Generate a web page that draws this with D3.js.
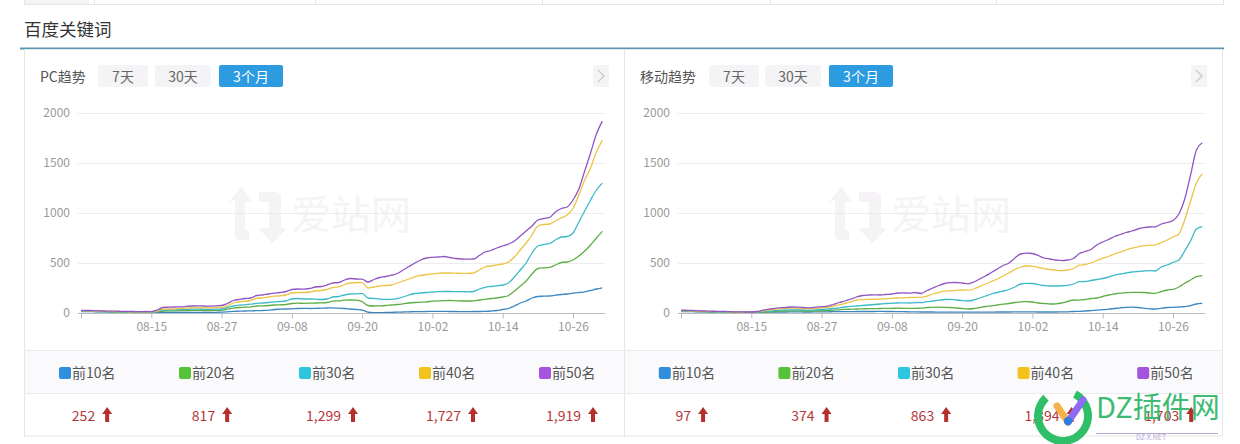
<!DOCTYPE html>
<html><head><meta charset="utf-8">
<script src="https://cdn.jsdelivr.net/npm/d3@7"></script>
<style>
html,body{margin:0;padding:0;background:#fff;}
svg{display:block;font-family:"Noto Sans CJK SC","Noto Sans",sans-serif;}
</style></head><body>
<svg id="c" width="1240" height="444"></svg>
<script>
// ---------- data ----------
const dates = d3.timeDay.range(new Date(2018,7,3), new Date(2018,10,1)); // 90 days, 08-03 .. 10-31
const xTickIdx = [0,12,24,36,48,60,72,84];
const xTickLabels = ["", "08-15","08-27","09-08","09-20","10-02","10-14","10-26"];
const yTicks = [0,500,1000,1500,2000];
const seriesNames = ["前10名","前20名","前30名","前40名","前50名"];
const seriesColors = ["#2f8fdc","#55c23a","#2ec6dc","#f3c21b","#a355dd"];
const lineColors = ["#3d86bf","#5cae45","#3cb9c9","#ecc445","#8f55c2"];
const buttons = ["7天","30天","3个月"];

const pcTop10 = [15,15,13,12,11,10,9,8,8,7,7,7,7,6,5,5,6,6,6,7,7,7,6,7,8,12,16,18,20,22,23,25,28,35,38,40,42,45,46,45,47,48,50,52,48,45,40,35,30,8,3,4,5,7,8,10,12,13,14,15,16,17,16,15,15,14,14,15,15,17,20,25,35,45,70,100,120,150,165,168,170,178,185,190,198,205,212,225,240,252];
const pcTop20 = [18,18,16,15,14,12,11,10,10,9,9,9,9,12,20,22,22,23,25,26,26,25,25,26,27,38,48,55,58,62,70,72,75,80,82,85,95,98,97,98,100,102,105,118,122,128,130,128,113,75,70,72,75,80,85,92,100,105,108,112,118,122,124,125,122,120,120,122,130,137,145,150,160,175,220,270,320,390,445,452,457,480,505,510,530,570,620,680,750,817];
const pcTop30 = [20,20,18,17,15,14,13,12,11,11,10,10,10,15,28,30,32,33,35,38,38,37,36,38,40,55,70,78,82,88,97,100,105,112,115,120,140,145,140,140,138,135,140,160,165,180,190,192,197,150,145,140,137,137,145,160,180,195,200,205,210,213,215,215,213,213,212,215,240,257,265,272,280,300,360,430,500,600,670,685,695,730,760,765,800,910,1020,1130,1230,1299];
const pcTop40 = [22,23,21,19,18,16,15,14,13,12,12,12,12,20,38,40,42,45,48,52,54,53,52,55,57,72,100,110,118,125,147,152,160,168,172,180,200,205,205,210,220,225,235,255,262,285,300,305,303,250,260,270,275,280,300,320,340,362,375,385,392,397,400,400,398,397,396,400,430,460,470,480,490,510,560,630,700,780,870,885,890,920,950,980,1045,1180,1330,1450,1610,1727];
const pcTop50 = [25,26,24,22,20,19,18,17,16,15,14,15,14,30,55,58,60,62,66,70,72,70,68,72,75,95,125,135,145,150,175,180,190,198,205,215,235,240,238,245,260,265,280,300,305,330,345,340,338,310,335,355,365,378,395,430,465,500,530,550,557,560,565,555,545,540,538,540,575,610,625,650,670,690,720,770,820,870,930,945,955,1010,1045,1060,1130,1240,1420,1600,1790,1919];

const mTop10 = [15,14,13,12,11,10,9,9,8,8,7,7,7,7,8,9,9,10,10,11,11,10,10,11,12,12,13,13,14,14,15,15,15,15,16,15,15,14,13,12,11,10,10,10,9,9,9,8,8,8,8,9,9,9,10,10,10,11,12,12,11,10,10,10,10,11,12,15,17,20,24,28,33,38,45,52,57,58,55,48,42,40,48,55,57,60,63,75,90,97];
const mTop20 = [18,17,16,15,13,12,11,10,9,8,8,8,7,8,10,12,15,18,20,22,21,20,20,21,23,25,28,32,36,38,40,42,43,44,45,46,47,48,47,46,47,48,55,57,58,57,55,50,45,40,45,55,65,72,80,88,95,105,112,113,110,100,95,90,92,100,115,130,128,135,145,150,165,180,190,198,203,207,207,205,200,197,215,230,237,260,297,330,363,374];
const mTop30 = [20,19,18,16,15,14,13,12,11,10,9,9,8,10,16,20,24,27,30,32,31,30,29,32,35,38,45,52,60,66,70,75,80,85,90,95,97,100,102,100,103,103,113,120,128,135,137,130,124,120,130,150,170,190,205,220,235,260,290,297,295,283,275,270,270,272,277,290,313,315,325,335,345,360,378,390,400,410,415,420,423,420,460,480,505,530,620,720,840,863];
const mTop40 = [24,23,21,19,17,16,15,14,12,11,10,9,9,12,22,30,37,42,46,48,47,45,43,47,52,56,68,82,95,112,130,134,136,137,138,142,147,150,152,155,157,157,170,190,205,218,223,226,230,228,240,265,290,315,340,370,400,435,460,470,468,455,445,435,428,423,430,445,478,485,500,525,548,565,590,610,630,648,662,673,678,682,705,730,760,790,930,1120,1300,1394];
const mTop50 = [28,27,25,22,20,18,17,16,14,12,11,10,10,15,28,38,47,52,57,60,58,55,52,58,63,68,85,105,120,140,160,175,180,182,180,185,190,200,202,198,205,195,225,250,275,295,303,305,300,292,310,340,370,405,440,475,500,550,590,598,595,575,550,540,530,523,530,545,595,615,635,680,710,735,765,785,805,820,840,853,860,862,890,905,925,990,1140,1380,1630,1703];

const pcFinal = ["252","817","1,299","1,727","1,919"];
const mFinal = ["97","374","863","1,394","1,703"];

// ---------- layout ----------
const svg = d3.select("#c");
const FONT = '"Noto Sans CJK SC","Noto Sans",sans-serif';

// top table strip
svg.append("rect").attr("x",24).attr("y",0).attr("width",65).attr("height",4.5).attr("fill","#f4f4f4");
svg.append("line").attr("x1",24).attr("x2",1224).attr("y1",4.5).attr("y2",4.5).attr("stroke","#e6e6e6");
[24,94,315,542,770,996,1223].forEach(x=>{
  svg.append("line").attr("x1",x+0.5).attr("x2",x+0.5).attr("y1",0).attr("y2",4.5).attr("stroke","#e6e6e6");
});

// title
svg.append("text").attr("x",24).attr("y",36).attr("font-size",17.5).attr("fill","#333").text("百度关键词");
svg.append("rect").attr("x",20).attr("y",47.5).attr("width",1204).attr("height",2).attr("fill","#5b96b4");

function panel(opt){
  const g = svg.append("g");
  const {x0,x1,title,tabX,btnX,series,finals,xStart} = opt;
  // border
  g.append("rect").attr("x",x0+0.5).attr("y",49.5).attr("width",x1-x0).attr("height",386.5)
    .attr("fill","none").attr("stroke","#e6e6e6");
  // tab title
  g.append("text").attr("x",tabX).attr("y",82).attr("font-size",14).attr("fill","#555").text(title);
  // buttons
  const widths=[50,56,64];
  buttons.forEach((b,i)=>{
    const bx=btnX[i];
    g.append("rect").attr("x",bx).attr("y",65).attr("width",widths[i]).attr("height",22).attr("rx",2)
      .attr("fill", i===2?"#2c9be0":"#f4f4f6");
    g.append("text").attr("x",bx+widths[i]/2).attr("y",81.5).attr("text-anchor","middle")
      .attr("font-size",14).attr("fill", i===2?"#fff":"#666").text(b);
  });
  // chevron button
  const cx = x1-31;
  g.append("rect").attr("x",cx).attr("y",65).attr("width",16).attr("height",22).attr("fill","#f4f4f6");
  g.append("path").attr("d",`M${cx+5},70 L${cx+11},76 L${cx+5},82`).attr("fill","none").attr("stroke","#c8c8c8").attr("stroke-width",1.3);

  // scales
  const x = d3.scaleLinear().domain([0,dates.length-1]).range([xStart, xStart+89*5.857]);
  const y = d3.scaleLinear().domain([0,2000]).range([313,113]);

  // watermark
  const wm = g.append("g");
  const wx = xStart+144, wy=186;
  wm.append("path").attr("d",`M${wx+10},${wy+14} L${wx+10},${wy+48} Q${wx+10},${wy+54} ${wx+16},${wy+54} L${wx+24},${wy+54} L${wx+24},${wy+44} L${wx+20},${wy+44} L${wx+20},${wy+16} L${wx+26},${wy+16} L${wx+17},${wy} L${wx+4},${wy+16} Z`)
    .attr("fill","#f5f3f6");
  wm.append("path").attr("d",`M${wx+34},${wy+6} L${wx+50},${wy+6} Q${wx+56},${wy+6} ${wx+56},${wy+12} L${wx+56},${wy+42} L${wx+62},${wy+42} L${wx+47},${wy+58} L${wx+34},${wy+42} L${wx+44},${wy+42} L${wx+44},${wy+16} L${wx+34},${wy+16} Z`)
    .attr("fill","#f5f3f6");
  wm.append("text").attr("x",wx+66).attr("y",wy+43).attr("font-size",40).attr("fill","#f5f3f6").text("爱站网");

  // grid + y axis
  const gridL = xStart-3, gridR = xStart+89*5.857+3;
  const ya = d3.axisLeft(y).tickValues(yTicks).tickFormat(d3.format("d")).tickSize(0).tickPadding(8);
  const yg = g.append("g").attr("transform",`translate(${gridL},0)`).call(ya);
  yg.select(".domain").remove();
  yg.selectAll("text").attr("font-size",12).attr("fill","#999").attr("font-family",FONT);
  yTicks.filter(t=>t>0).forEach(t=>{
    g.append("line").attr("x1",gridL).attr("x2",gridR).attr("y1",y(t)+0.5).attr("y2",y(t)+0.5).attr("stroke","#ececec");
  });

  // lines
  const line = d3.line().x((d,i)=>x(i)).y(d=>y(d)).curve(d3.curveMonotoneX);
  series.forEach((s,k)=>{
    g.append("path").datum(s).attr("d",line).attr("fill","none").attr("stroke",lineColors[k]).attr("stroke-width",1.3);
  });

  // x axis
  const xa = d3.axisBottom(x).tickValues(xTickIdx).tickSize(5).tickPadding(4)
    .tickFormat((d,i)=>xTickLabels[i]);
  const xg = g.append("g").attr("transform","translate(0,313.5)").call(xa);
  xg.select(".domain").attr("d",`M${gridL},0H${gridR}`).attr("stroke","#bbb");
  xg.selectAll(".tick line").attr("stroke","#bbb");
  xg.selectAll("text").attr("font-size",12).attr("fill","#999").attr("font-family",FONT);

  // legend row
  g.append("rect").attr("x",x0+1).attr("y",350).attr("width",x1-x0-1).attr("height",43).attr("fill","#fafafc");
  g.append("line").attr("x1",x0).attr("x2",x1).attr("y1",350.5).attr("y2",350.5).attr("stroke","#ebebeb");
  g.append("line").attr("x1",x0).attr("x2",x1).attr("y1",393.5).attr("y2",393.5).attr("stroke","#ebebeb");
  const colW = (x1-x0)/5;
  seriesNames.forEach((n,k)=>{
    const c = x0 + colW*(k+0.5) + 5;
    g.append("rect").attr("x",c-30).attr("y",367).attr("width",12).attr("height",12).attr("rx",2).attr("fill",seriesColors[k]);
    g.append("text").attr("x",c-17).attr("y",378).attr("font-size",14).attr("fill","#555").text(n);
    // values: "num ↑" group centred at vc
    const vc = x0 + colW*(k+0.5) + 8;
    const t = g.append("text").attr("y",421).attr("font-size",14).attr("fill","#b5373a").text(finals[k]);
    const tw = t.node().getComputedTextLength();
    const gw = tw + 7 + 10;
    const sx = vc - gw/2;
    t.attr("x",sx);
    const ax = sx + tw + 12;
    g.append("path").attr("d",`M${ax},407 L${ax+5},414 L${ax+2},414 L${ax+2},422 L${ax-2},422 L${ax-2},414 L${ax-5},414 Z`)
      .attr("fill","#b5302c");
  });
}

panel({x0:24,x1:624,title:"PC趋势",tabX:40,btnX:[98,155,219],
  series:[pcTop10,pcTop20,pcTop30,pcTop40,pcTop50],finals:pcFinal,xStart:81});
panel({x0:624,x1:1222,title:"移动趋势",tabX:640,btnX:[709,765,829],
  series:[mTop10,mTop20,mTop30,mTop40,mTop50],finals:mFinal,xStart:681});

// DZ watermark overlay (bottom right, present in the reference image)
const dz = svg.append("g");
dz.append("path").attr("d", d3.arc()({innerRadius:21,outerRadius:29,startAngle:0.5,endAngle:2*Math.PI-0.75}))
  .attr("transform","translate(1063,416)").attr("fill","#2fbf68");
dz.append("line").attr("x1",1057).attr("y1",406).attr("x2",1068).attr("y2",422).attr("stroke","#f5b24a").attr("stroke-width",7).attr("stroke-linecap","round");
dz.append("line").attr("x1",1068).attr("y1",422).attr("x2",1083).attr("y2",400).attr("stroke","#8e6bf0").attr("stroke-width",7).attr("stroke-linecap","round");
dz.append("circle").attr("cx",1068).attr("cy",421).attr("r",4).attr("fill","#2b7fe0");
dz.append("text").attr("x",1096).attr("y",418).attr("font-size",29).attr("fill","#3dbb74").text("DZ插件网");
dz.append("line").attr("x1",1096).attr("x2",1218).attr("y1",433.5).attr("y2",433.5).attr("stroke","#b6a9d6");
dz.append("text").attr("x",1136).attr("y",440).attr("font-size",7).attr("fill","#b6a9d6").text("DZ-X.NET");
</script>
</body></html>
